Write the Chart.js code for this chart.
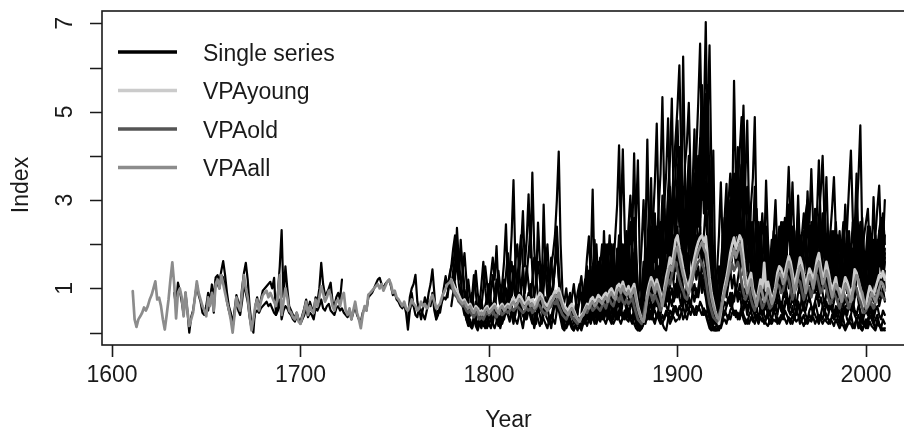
<!DOCTYPE html>
<html>
<head>
<meta charset="utf-8">
<title>Index by year</title>
<script src="https://cdn.jsdelivr.net/npm/chart.js"></script>
<style>
  html, body { margin: 0; padding: 0; background: #fff; overflow: hidden; }
  #wrap { width: 904px; height: 432px; overflow: hidden; }
</style>
</head>
<body>
<div id="wrap"><canvas id="indexChart" width="930" height="432"></canvas></div>
<script>
// axis ticks and labels
const xTicks = [1600, 1700, 1800, 1900, 2000];
const yTicks = [0, 1, 2, 3, 4, 5, 6, 7];
const yTickLabels = [1, 3, 5, 7];
const legendLabels = ['Single series', 'VPAyoung', 'VPAold', 'VPAall'];
const legendColors = ['#000000', '#cbcbcb', '#555555', '#8c8c8c'];

// VPA chronologies (start year + one value per year)
const vpaAllStart = 1611;
const vpaAll = [
  0.94, 0.3, 0.13, 0.3, 0.37, 0.45, 0.57, 0.5, 0.6, 0.75,
  0.85, 1.0, 1.16, 0.75, 0.79, 0.6, 0.3, 0.07, 0.4, 0.75,
  1.2, 1.59, 1.1, 0.32, 0.9, 1.0, 0.8, 0.37, 0.91, 0.5,
  0.15, 0.3, 0.45, 0.8, 1.16, 0.9, 0.75, 0.6, 0.5, 0.37,
  0.8, 0.6, 0.9, 0.5, 1.1, 1.2, 1.0, 1.3, 1.1, 0.9,
  0.7, 0.52, 0.3, 0.0, 0.4, 0.8, 0.6, 0.5, 0.9, 1.3,
  1.0, 0.8, 0.4, 0.05, 0.3, 0.6, 0.75, 0.5, 0.7, 0.85,
  0.9, 0.95, 0.8, 0.9, 0.8, 0.7, 0.6, 0.85, 1.3, 0.4,
  0.7, 1.0, 0.8, 0.5, 0.45, 0.35, 0.3, 0.45, 0.25, 0.2,
  0.35, 0.5, 0.7, 0.4, 0.6, 0.5, 0.45, 0.75, 0.6, 0.8,
  1.05, 0.9, 0.7, 0.8, 0.95, 0.85, 0.6, 0.5, 0.7, 0.75,
  0.6, 0.8, 0.9, 0.5, 0.4, 0.55, 0.3, 0.5, 0.7, 0.45,
  0.3, 0.1, 0.4, 0.6, 0.5, 0.86, 0.9, 0.95, 1.0, 1.05,
  1.1, 1.0, 1.1, 0.95, 1.05, 1.15, 1.2, 1.1, 0.9, 0.95,
  0.8, 0.75, 0.68, 0.6, 0.7, 0.55, 0.5, 0.6, 0.75, 0.65,
  0.6, 0.5, 0.55, 0.7, 0.6, 0.65, 0.55, 0.6, 0.75, 0.85,
  0.7, 0.55, 0.6, 0.65, 0.8, 0.9, 1.0, 1.1, 1.13, 1.2,
  1.0, 0.9, 0.85, 0.75, 0.7, 0.65, 0.7, 0.6, 0.55, 0.6,
  0.5, 0.45, 0.55, 0.5, 0.4, 0.45, 0.4, 0.5, 0.55, 0.45,
  0.5, 0.55, 0.6, 0.5, 0.45, 0.55, 0.6, 0.5, 0.55, 0.6,
  0.55, 0.65, 0.7, 0.6, 0.65, 0.75, 0.7, 0.6, 0.55, 0.65,
  0.7, 0.6, 0.65, 0.55, 0.6, 0.7, 0.8, 0.75, 0.6, 0.55,
  0.5, 0.6, 0.7, 0.75, 0.85, 0.8, 0.9, 0.75, 0.6, 0.5,
  0.45, 0.4, 0.5, 0.55, 0.45, 0.35, 0.3, 0.25, 0.35, 0.4,
  0.5, 0.6, 0.55, 0.65, 0.7, 0.6, 0.65, 0.75, 0.7, 0.65,
  0.75, 0.8, 0.7, 0.85, 0.9, 0.8, 0.75, 0.95, 1.0, 0.9,
  1.05, 0.9, 0.85, 0.95, 0.8, 0.9, 1.0, 0.75, 0.55, 0.4,
  0.3, 0.25, 0.5, 0.8, 1.0, 1.15, 1.05, 0.9, 1.1, 0.95,
  0.8, 0.6, 0.85, 1.1, 1.3, 1.5, 1.4, 1.6, 1.85, 1.95,
  1.7, 1.5, 1.3, 1.15, 1.0, 0.9, 1.1, 1.3, 1.5, 1.7,
  1.85, 1.95, 2.05, 1.9, 1.8, 1.5, 1.1, 0.8, 0.6, 0.45,
  0.35, 0.3, 0.5, 0.7, 0.95, 1.1, 1.35, 1.6, 1.75, 1.9,
  1.7, 1.85, 2.0, 1.75, 1.4, 1.1, 0.9, 1.05, 1.2, 0.9,
  0.75, 0.6, 0.85, 1.05, 0.9, 0.7, 0.8, 1.0, 0.85, 0.65,
  0.75, 0.95, 1.2, 1.35, 1.3, 1.1, 1.2, 1.4, 1.6, 1.45,
  1.2, 0.9, 1.1, 1.3, 1.5, 1.4, 1.15, 0.9, 1.1, 1.3,
  1.2, 1.0, 1.25, 1.5, 1.6, 1.35, 1.1, 1.2, 1.4, 1.25,
  1.0, 0.8, 0.95, 1.1, 1.0, 0.85, 0.7, 0.9, 1.1, 1.0,
  0.85, 0.7, 0.9, 1.15, 1.3, 1.2, 1.0, 0.9, 0.7, 0.55,
  0.6, 0.75, 0.9, 0.8, 0.7, 0.85, 1.0, 1.15, 1.1, 0.95
];

const vpaYoungStart = 1780;
const vpaYoung = [
  1.2, 1.1, 1.0, 0.95, 0.85, 0.75, 0.7, 0.75, 0.65, 0.6,
  0.65, 0.55, 0.5, 0.6, 0.55, 0.45, 0.5, 0.45, 0.55, 0.6,
  0.5, 0.55, 0.6, 0.65, 0.55, 0.5, 0.6, 0.65, 0.55, 0.6,
  0.65, 0.6, 0.7, 0.8, 0.7, 0.75, 0.85, 0.8, 0.7, 0.65,
  0.7, 0.8, 0.7, 0.75, 0.65, 0.7, 0.8, 0.9, 0.85, 0.7,
  0.65, 0.6, 0.7, 0.8, 0.85, 0.95, 0.9, 1.0, 0.85, 0.7,
  0.6, 0.55, 0.5, 0.6, 0.65, 0.5, 0.4, 0.3, 0.25, 0.4,
  0.45, 0.55, 0.65, 0.6, 0.75, 0.8, 0.7, 0.75, 0.85, 0.8,
  0.75, 0.85, 0.9, 0.8, 0.95, 1.0, 0.9, 0.85, 1.05, 1.1,
  1.0, 1.15, 1.0, 0.95, 1.05, 0.9, 1.0, 1.1, 0.85, 0.6,
  0.45, 0.3, 0.25, 0.55, 0.9, 1.1, 1.25, 1.15, 1.0, 1.2,
  1.05, 0.9, 0.7, 0.95, 1.25, 1.45, 1.7, 1.55, 1.8, 2.1,
  2.2, 1.9, 1.7, 1.45, 1.25, 1.1, 1.0, 1.25, 1.5, 1.7,
  1.9, 2.05, 2.15, 2.2, 2.05, 2.18, 1.7, 1.25, 0.9, 0.7,
  0.5, 0.35, 0.2, 0.45, 0.8, 1.05, 1.25, 1.5, 1.8, 2.0,
  2.15, 1.9, 2.05, 2.2, 2.1, 1.7, 1.3, 1.05, 1.2, 1.35,
  1.0, 0.85, 0.7, 0.95, 1.2, 1.0, 1.58, 0.95, 1.15, 0.95,
  0.75, 0.85, 1.05, 1.35, 1.5, 1.45, 1.25, 1.35, 1.55, 1.73,
  1.6, 1.35, 1.05, 1.25, 1.45, 1.7, 1.55, 1.3, 1.05, 1.25,
  1.45, 1.35, 1.15, 1.4, 1.65, 1.8, 1.5, 1.25, 1.35, 1.6,
  1.4, 1.15, 0.95, 1.1, 1.25, 0.97, 1.0, 0.85, 1.05, 1.25,
  1.15, 1.0, 0.85, 1.05, 1.43, 1.35, 1.15, 1.0, 0.6, 0.65,
  0.61, 0.85, 1.05, 0.95, 0.85, 1.0, 1.15, 1.3, 1.25, 1.39,
  1.2
];

const vpaOldStart = 1780;
const vpaOld = [
  1.1, 0.95, 0.85, 0.8, 0.7, 0.65, 0.6, 0.6, 0.5, 0.45,
  0.5, 0.4, 0.35, 0.45, 0.4, 0.3, 0.35, 0.3, 0.4, 0.45,
  0.4, 0.45, 0.5, 0.4, 0.35, 0.45, 0.5, 0.4, 0.45, 0.5,
  0.45, 0.5, 0.55, 0.5, 0.55, 0.6, 0.55, 0.5, 0.45, 0.5,
  0.55, 0.5, 0.55, 0.45, 0.5, 0.55, 0.65, 0.6, 0.5, 0.45,
  0.4, 0.5, 0.55, 0.6, 0.7, 0.65, 0.75, 0.6, 0.5, 0.4,
  0.35, 0.3, 0.4, 0.45, 0.35, 0.3, 0.25, 0.2, 0.3, 0.35,
  0.4, 0.5, 0.45, 0.55, 0.6, 0.5, 0.55, 0.6, 0.55, 0.5,
  0.6, 0.65, 0.55, 0.7, 0.75, 0.65, 0.6, 0.75, 0.8, 0.7,
  0.85, 0.7, 0.65, 0.75, 0.65, 0.7, 0.8, 0.6, 0.45, 0.3,
  0.25, 0.2, 0.4, 0.65, 0.8, 0.9, 0.85, 0.7, 0.85, 0.75,
  0.65, 0.5, 0.7, 0.9, 1.05, 1.2, 1.1, 1.3, 1.5, 1.6,
  1.4, 1.2, 1.05, 0.95, 0.8, 0.75, 0.9, 1.05, 1.2, 1.4,
  1.5, 1.6, 1.65, 1.55, 1.45, 1.2, 0.9, 0.65, 0.5, 0.35,
  0.3, 0.25, 0.4, 0.55, 0.75, 0.9, 1.1, 1.3, 1.4, 1.55,
  1.4, 1.5, 1.6, 1.4, 1.15, 0.9, 0.75, 0.85, 1.0, 0.75,
  0.6, 0.5, 0.7, 0.85, 0.75, 0.55, 0.65, 0.8, 0.7, 0.55,
  0.6, 0.75, 0.95, 1.1, 1.05, 0.9, 0.95, 1.15, 1.3, 1.2,
  1.0, 0.75, 0.9, 1.05, 1.2, 1.15, 0.95, 0.75, 0.9, 1.05,
  1.0, 0.8, 1.0, 1.2, 1.3, 1.1, 0.9, 1.0, 1.15, 1.0,
  0.8, 0.65, 0.75, 0.9, 0.8, 0.7, 0.55, 0.7, 0.9, 0.8,
  0.7, 0.55, 0.7, 0.9, 1.05, 1.0, 0.8, 0.7, 0.55, 0.45,
  0.5, 0.6, 0.7, 0.65, 0.55, 0.7, 0.8, 0.9, 0.9, 0.8,
  0.75
];

// single site series
const single01Start = 1633;
const single01 = [
  0.9, 0.6, 1.13, 0.95, 0.7, 0.4, 0.9, 0.5, 0.0, 0.35,
  0.5, 0.8, 1.1, 0.85, 0.7, 0.45, 0.4, 0.6, 0.9, 0.7,
  1.09, 0.45, 1.25, 1.3, 1.15, 1.4, 1.62, 1.3, 0.9, 0.6,
  0.45, 0.2, 0.5, 0.85, 0.7, 0.55, 1.0, 1.35, 1.58, 1.2,
  0.6, 0.2, 0.0, 0.6, 0.8, 0.55, 0.75, 0.95, 1.0, 1.05,
  1.1, 1.15, 1.0, 1.24, 0.4, 0.9, 1.5, 2.32, 0.8, 1.5,
  1.0, 0.6, 0.5, 0.4, 0.35, 0.45, 0.3, 0.25, 0.4, 0.55,
  0.75, 0.5, 0.7, 0.55, 0.5, 0.8, 0.7, 1.0, 1.58, 1.1,
  0.85, 0.9, 1.0, 1.13, 0.7, 0.6, 0.8, 0.9, 0.75, 1.2
];

const single02Start = 1650;
const single02 = [
  0.6, 0.5, 0.8, 1.0, 0.9, 1.2, 1.1, 1.0, 1.3, 1.25,
  1.0, 0.7, 0.5, 0.35, 0.1, 0.45, 0.7, 0.5, 0.4, 0.7,
  1.1, 0.9, 0.7, 0.35, 0.1, 0.25, 0.45, 0.5, 0.45, 0.55,
  0.6, 0.65, 0.7, 0.6, 0.65, 0.55, 0.45, 0.4, 0.5, 0.75,
  0.3, 0.5, 0.6, 0.55, 0.45, 0.4, 0.3, 0.25, 0.35, 0.3,
  0.2, 0.3, 0.4, 0.55, 0.35, 0.45, 0.4, 0.3, 0.55, 0.5,
  0.6, 0.75, 0.55, 0.5, 0.6, 0.65, 0.5, 0.45, 0.4, 0.55,
  0.6, 0.5, 0.55, 0.45, 0.4, 0.35, 0.5, 0.3, 0.45, 0.6,
  0.4, 0.3, 0.25, 0.45, 0.55, 0.5, 0.8, 0.85, 0.9, 1.0,
  1.1, 1.2, 1.24, 1.1, 1.0, 1.1, 1.15, 1.2, 1.05, 0.85,
  0.9, 0.75, 0.7, 0.6, 0.55, 0.65, 0.45, 0.07, 0.5, 0.7, 0.6
];

const single03Start = 1757;
const single03 = [
  0.3, 0.8, 1.0, 1.1, 1.31, 0.7, 0.5, 0.3, 0.55, 0.8,
  0.6, 0.9, 1.1, 1.43, 0.9, 0.3, 0.5, 0.45, 0.7, 1.0,
  1.28, 1.0, 1.3, 1.5, 1.6, 1.2, 2.37, 1.6, 1.2, 0.8,
  0.5, 0.3, 0.2, 0.6, 0.9, 0.5, 0.3, 0.15, 0.4, 0.7,
  0.5, 0.3, 0.1, 0.4, 0.9, 1.3, 0.8, 0.5, 0.35, 0.2,
  0.6, 1.2, 0.9, 0.5, 1.4, 2.2, 3.45, 1.6, 0.7, 0.4,
  0.9, 1.5, 0.6, 0.3, 0.5, 1.1, 0.7, 0.4, 0.2, 0.6,
  0.9, 1.3, 0.8, 0.4, 0.6, 1.0, 1.5, 1.8, 2.2, 3.0,
  4.1, 2.0, 0.9, 0.5, 0.3, 0.2, 0.4, 0.6, 0.5, 0.3,
  0.2, 0.1, 0.4, 0.8, 0.6, 1.0, 1.4, 0.9, 0.6, 1.1,
  1.5, 0.8, 0.5, 1.2, 1.8, 1.0, 0.6, 0.9, 1.4, 0.7,
  0.5, 1.0, 1.6, 2.0, 1.3, 0.8, 1.1, 1.7, 1.0, 0.6,
  1.2, 0.9, 0.5, 0.2, 0.1, 0.4, 0.9, 1.5, 1.1, 0.8,
  1.4, 2.0, 1.3, 0.9, 1.6, 2.4, 1.5, 1.0, 1.8, 2.6,
  2.0, 1.4, 2.2, 2.9, 3.4, 2.5, 1.8, 1.2, 2.0, 2.7,
  1.9, 1.4, 2.3, 3.0, 2.4, 3.1, 3.8, 2.7, 3.3, 2.2,
  1.5, 0.9, 0.5, 0.3, 0.2, 0.4, 0.7, 1.2, 1.8, 1.3,
  1.9, 2.5, 2.9, 3.3, 2.4, 2.8, 3.1, 2.2, 1.7, 1.2,
  1.6, 2.1, 1.4, 0.8, 1.3, 0.9, 0.6, 1.1, 1.5, 0.9,
  0.6, 1.0, 1.3, 0.7, 0.5, 0.9, 1.4, 1.9, 2.3, 1.6,
  1.2, 1.8, 2.4, 1.9, 1.3, 0.8, 1.2, 1.7, 2.1, 1.5,
  1.0, 0.7, 1.2, 1.8, 2.5, 1.9, 1.4, 2.0, 2.6, 2.1,
  1.5, 1.0, 1.6, 2.2, 1.4, 0.9, 1.3, 1.8, 1.2, 0.8,
  0.6, 1.0, 1.4, 0.9, 1.3, 2.0, 1.5, 1.0, 1.7, 2.3,
  1.6, 1.1, 0.7, 0.5, 0.9, 1.3, 1.0, 0.7, 1.1, 1.6,
  2.0, 1.5, 1.2, 1.8
];

const single04Start = 1758;
const single04 = [
  0.5, 0.9, 0.6, 0.4, 0.35, 0.6, 0.5, 0.4, 0.3, 0.5,
  0.7, 0.6, 0.9, 0.5, 0.3, 0.4, 0.6, 0.7, 0.8, 0.75,
  0.9, 1.1, 1.0, 1.4, 2.0, 1.7, 1.2, 2.1, 1.4, 0.8,
  0.5, 0.3, 0.15, 0.1, 0.3, 0.2, 0.1, 0.3, 0.2, 0.15,
  0.3, 0.4, 0.2, 0.1, 0.3, 0.5, 0.3, 0.15, 0.2, 0.35,
  0.3, 0.5, 0.4, 0.25, 0.6, 0.45, 0.3, 0.2, 0.4, 0.55,
  0.4, 0.3, 0.5, 0.6, 0.35, 0.2, 0.3, 0.45, 0.3, 0.15,
  0.3, 0.5, 0.4, 0.3, 0.2, 0.35, 0.55, 0.7, 0.5, 0.6,
  0.4, 0.3, 0.15, 0.1, 0.2, 0.3, 0.2, 0.1, 0.15, 0.05,
  0.2, 0.3, 0.4, 0.35, 0.5, 0.4, 0.3, 0.5, 0.6, 0.45,
  0.35, 0.5, 0.4, 0.3, 0.45, 0.55, 0.4, 0.3, 0.5, 0.6,
  0.45, 0.35, 0.5, 0.4, 0.3, 0.45, 0.55, 0.4, 0.35, 0.5,
  0.3, 0.15, 0.05, 0.1, 0.2, 0.35, 0.5, 0.4, 0.3, 0.45,
  0.5, 0.35, 0.4, 0.3, 0.2, 0.35, 0.5, 0.45, 0.3, 0.4,
  0.35, 0.25, 0.3
];

const single05Start = 1778;
const single05 = [
  0.8, 1.2, 1.5, 1.9, 2.2, 1.8, 1.4, 1.9, 1.5, 1.0,
  0.7, 1.2, 0.8, 0.5, 1.0, 1.4, 0.9, 0.6, 1.1, 1.6,
  1.0, 0.6, 0.9, 1.3, 1.7, 1.2, 1.96, 1.0, 0.6, 1.1,
  1.6, 2.45, 1.2, 0.7, 1.0, 1.5, 0.9, 0.6, 1.3, 1.9,
  2.75, 1.5, 2.1, 3.13, 1.7, 3.62, 1.9, 1.1, 2.49, 1.6,
  1.0, 2.9, 1.4, 0.8, 1.2, 1.7, 1.0, 1.5, 2.0, 1.3,
  0.8, 0.5, 0.7, 1.0, 0.6, 0.4, 0.8, 1.1, 0.7, 0.4,
  1.0, 1.28, 0.8, 0.5, 0.9, 1.4, 1.0, 0.6, 0.8, 1.1,
  0.7, 0.5, 0.9, 0.6, 0.4, 0.7, 1.0, 0.6, 0.3, 0.5,
  0.8, 0.6, 0.4, 0.7, 0.9, 0.5, 0.3, 0.6, 0.8, 0.5,
  0.4, 0.2, 0.1, 0.3, 0.5, 0.7, 0.5, 0.9, 0.6, 0.4,
  0.6, 0.8, 0.5, 0.4, 0.7, 0.9, 0.6, 0.5, 0.8, 1.0,
  0.7, 0.9, 1.2, 0.8, 0.6, 1.0, 0.7, 0.5, 0.8, 0.6,
  0.9, 1.1, 0.8, 1.0, 1.3, 0.9, 1.2, 1.0, 0.7, 0.5,
  0.3, 0.15, 0.1, 0.05, 0.2, 0.3, 0.5, 0.4, 0.6, 0.7,
  0.9, 0.6, 0.8, 1.0, 0.7, 0.9, 0.6, 0.5, 0.7, 0.4,
  0.6, 0.8, 0.5, 0.4, 0.6, 0.3, 0.5, 0.7, 0.4, 0.3,
  0.5, 0.4, 0.3, 0.5, 0.6, 0.4, 0.7, 0.5, 0.4, 0.6,
  0.8, 0.5, 0.4, 0.6, 0.3, 0.5, 0.7, 0.4, 0.5, 0.6,
  0.4, 0.3, 0.5, 0.6, 0.4, 0.7, 0.5, 0.3, 0.4, 0.6,
  0.5, 0.3, 0.4, 0.6, 0.5, 0.3, 0.4, 0.5, 0.3, 0.2,
  0.4, 0.5, 0.3, 0.2, 0.4, 0.6, 0.4, 0.3, 0.1, 0.3,
  0.4, 0.2, 0.1, 0.3, 0.5, 0.4, 0.2, 0.3, 0.4, 0.2,
  0.1, 0.3, 0.2
];

const single06Start = 1780;
const single06 = [
  0.6, 0.9, 1.3, 1.6, 1.1, 0.8, 0.6, 0.4, 0.5, 0.3,
  0.4, 0.6, 0.45, 0.3, 0.5, 0.7, 0.5, 0.35, 0.6, 0.8,
  1.1, 0.7, 0.5, 0.8, 1.2, 0.9, 0.6, 0.4, 0.7, 1.0,
  0.8, 1.3, 1.6, 1.1, 0.8, 1.2, 1.7, 2.2, 1.5, 0.9,
  1.3, 1.8, 2.3, 1.4, 0.8, 1.1, 1.6, 1.2, 0.7, 1.0,
  1.5, 2.0, 1.2, 0.8, 1.1, 1.6, 2.4, 1.5, 0.8, 0.5,
  0.3, 0.5, 0.8, 0.6, 0.4, 0.2, 0.3, 0.5, 0.7, 0.9,
  0.6, 0.4, 0.8, 1.1, 0.7, 1.5, 1.0, 0.6, 0.9, 1.3,
  0.8
];

const single07Start = 1780;
const single07 = [
  1.0, 1.3, 1.1, 0.9, 0.7, 1.0, 0.8, 0.5, 0.3, 0.15,
  0.2, 0.1, 0.3, 0.15, 0.05, 0.2, 0.35, 0.2, 0.1, 0.25,
  0.4, 0.3, 0.2, 0.1, 0.25, 0.4, 0.3, 0.2, 0.35, 0.5,
  0.4, 0.6, 0.5, 0.3, 0.4, 0.7, 0.9, 0.6, 0.4, 0.3,
  0.5, 0.7, 0.4, 0.3, 0.2, 0.4, 0.6, 0.8, 0.5, 0.3,
  0.2, 0.1, 0.3, 0.4, 0.3, 0.2, 0.5, 0.7, 0.4, 0.2,
  0.1, 0.15, 0.3, 0.2, 0.1, 0.05, 0.2, 0.35, 0.25, 0.15,
  0.3, 0.5, 0.4, 0.6, 0.8, 0.5, 0.3, 0.45, 0.7, 0.5,
  0.4, 0.6, 0.8, 0.5, 0.3, 0.5, 0.7, 0.4, 0.3, 0.5,
  0.6
];

const single08Start = 1785;
const single08 = [
  0.9, 1.4, 1.8, 1.2, 0.7, 0.4, 0.8, 1.3, 0.9, 0.5,
  0.3, 0.6, 1.0, 1.5, 1.1, 0.7, 0.4, 0.2, 0.5, 0.9,
  1.4, 1.0, 0.6, 0.9, 1.3, 1.8, 1.2, 0.8, 1.1, 1.6,
  2.0, 1.4, 0.9, 0.6, 1.0, 1.5, 1.1, 0.7, 1.2, 1.7,
  1.3, 0.8, 0.5, 0.9, 1.4, 1.9, 1.3, 0.9, 0.6, 1.0,
  1.5, 1.9, 1.2, 0.7, 0.4, 0.2, 0.4, 0.7, 0.9, 0.6,
  0.4, 0.6, 0.9, 1.1, 0.8, 0.5
];

const single09Start = 1790;
const single09 = [
  0.3, 0.1, 0.4, 0.7, 0.5, 0.2, 0.1, 0.4, 0.6, 0.3,
  0.15, 0.35, 0.6, 0.8, 0.5, 0.3, 0.1, 0.3, 0.5, 0.7,
  0.9, 0.6, 0.4, 0.2, 0.5, 0.8, 0.6, 0.3, 0.1, 0.4,
  0.7, 0.9, 0.6, 0.4, 0.1, 0.3, 0.6, 0.4, 0.2, 0.5,
  0.8, 0.6, 0.3, 0.1, 0.4, 0.7, 0.9, 0.5, 0.3, 0.1,
  0.05, 0.2, 0.4, 0.3, 0.1, 0.05, 0.15, 0.3, 0.2, 0.05,
  0.2, 0.4, 0.3, 0.6, 0.4, 0.3, 0.5, 0.7, 0.4, 0.3,
  0.5
];

const single10Start = 1850;
const single10 = [
  0.4, 0.9, 1.5, 0.8, 1.6, 3.24, 1.2, 0.7, 1.3, 0.9,
  0.5, 1.1, 1.7, 0.9, 1.4, 2.0, 1.1, 0.6, 1.5, 2.2,
  1.3, 0.8, 1.6, 2.3, 1.2, 0.7, 1.9, 2.6, 1.4, 0.6,
  0.3, 0.2, 0.9, 2.1, 4.37, 2.0, 1.1, 1.8, 2.7, 1.5,
  0.9, 2.0, 3.1, 1.7, 1.0, 2.3, 3.3, 2.0, 1.4, 2.8,
  3.6, 4.2, 2.9, 6.25, 3.5, 2.1, 3.0, 2.2, 1.5, 2.8,
  3.9, 2.6, 4.4, 3.0, 4.8, 7.03, 4.0, 2.3, 1.2, 0.6,
  0.3, 0.2, 0.5, 1.1, 1.8, 2.6, 1.6, 2.9, 3.6, 2.5,
  5.7, 3.4, 2.2, 3.1, 3.8, 2.4, 1.7, 2.5, 1.6, 2.9,
  3.5, 4.88, 2.3, 1.2, 1.9, 1.3, 0.8, 1.4, 2.0, 1.1,
  0.7, 1.5, 2.2, 1.4, 1.8, 2.5, 1.6, 1.0, 1.9, 2.6,
  1.8, 1.1, 0.7, 1.6, 2.3, 1.5, 2.0, 1.2, 0.8, 1.7,
  2.4, 1.6, 2.1, 2.8, 1.9, 2.6, 3.2, 4.0, 2.5, 1.4,
  2.0, 1.2, 0.8, 1.5, 2.2, 1.4, 0.9, 0.6, 1.3, 2.0,
  1.4, 2.3, 1.6, 1.1, 1.8, 2.7, 3.5, 4.69, 2.2, 1.0,
  0.6, 1.2, 1.9, 1.3, 2.1, 1.5, 1.0, 1.8, 2.4, 1.7,
  2.2
];

const single11Start = 1850;
const single11 = [
  1.0, 0.6, 0.4, 1.1, 0.7, 1.4, 2.1, 1.3, 0.8, 1.5,
  2.0, 1.2, 0.9, 1.6, 1.1, 0.7, 1.4, 2.2, 2.9, 4.24,
  2.1, 1.0, 1.5, 0.9, 1.8, 2.5, 1.4, 0.8, 1.2, 0.5,
  0.2, 0.4, 0.7, 1.3, 1.9, 1.2, 2.4, 1.5, 0.9, 2.0,
  2.8, 3.6, 5.33, 3.0, 1.8, 2.7, 1.6, 2.4, 3.2, 2.1,
  2.9, 3.7, 2.4, 3.3, 2.0, 3.1, 4.0, 2.6, 1.9, 3.0,
  4.1, 5.2, 6.54, 4.3, 3.1, 4.5, 5.6, 3.2, 1.8, 0.9,
  0.5, 0.3, 0.6, 1.4, 2.2, 1.5, 2.8, 1.9, 2.6, 3.4,
  2.6, 3.3, 2.3, 3.0, 3.9, 5.14, 3.2, 2.0, 2.7, 1.8,
  1.2, 2.0, 2.8, 1.7, 1.1, 1.6, 2.3, 1.4, 0.9, 1.5,
  2.1, 1.3, 0.9, 1.7, 2.4, 1.8, 1.2, 2.0, 2.7, 3.75,
  2.5, 1.7, 1.2, 2.0, 1.4, 0.9, 1.6, 2.3, 1.8, 1.1,
  1.5, 2.2, 1.6, 1.0, 1.8, 2.5, 1.7, 2.4, 1.9, 1.2,
  0.9, 1.6, 2.3, 1.5, 1.0, 1.7, 2.2, 1.4, 0.8, 1.5,
  2.4, 3.3, 4.12, 2.6, 1.5, 2.1, 1.4, 2.0, 2.6, 1.6,
  1.1, 1.8, 1.2, 0.8, 1.5, 2.2, 2.8, 3.33, 2.1, 1.4,
  1.9
];

const single12Start = 1850;
const single12 = [
  0.3, 0.5, 0.8, 0.5, 1.2, 0.9, 0.6, 1.0, 1.6, 1.1,
  0.8, 1.3, 0.7, 0.5, 1.0, 1.5, 2.0, 1.2, 0.9, 1.6,
  2.6, 4.15, 2.3, 1.2, 0.8, 1.3, 1.9, 1.1, 0.7, 0.4,
  0.3, 0.5, 1.0, 1.6, 1.0, 1.4, 2.2, 1.3, 0.8, 1.7,
  2.3, 1.4, 2.0, 2.8, 2.0, 3.2, 3.9, 5.3, 2.9, 1.8,
  2.4, 1.6, 3.0, 2.2, 1.5, 2.5, 1.9, 3.2, 2.4, 3.6,
  2.5, 3.4, 2.3, 3.8, 4.6, 3.5, 4.9, 6.5, 3.6, 1.5,
  0.8, 0.4, 0.2, 0.7, 1.3, 2.0, 1.4, 2.3, 3.0, 2.2,
  3.6, 2.5, 3.3, 4.1, 4.88, 3.0, 2.1, 1.5, 2.2, 1.5,
  2.4, 1.7, 1.1, 1.8, 2.5, 1.6, 1.0, 1.7, 1.2, 0.8,
  1.3, 1.9, 1.2, 0.8, 1.5, 1.1, 1.9, 2.6, 1.8, 1.3,
  1.9, 2.4, 1.5, 1.0, 1.6, 2.2, 1.4, 2.0, 2.7, 3.0,
  2.5, 3.7, 2.4, 1.6, 2.1, 1.5, 2.0, 2.7, 1.8, 1.1,
  1.6, 2.2, 2.8, 3.52, 2.3, 1.5, 1.1, 1.7, 2.2, 1.4,
  0.9, 1.5, 2.0, 1.3, 1.8, 2.4, 1.6, 2.1, 1.2, 0.8,
  1.4, 2.0, 1.5, 1.1, 1.6, 2.2, 1.6, 2.3, 2.6, 2.0,
  3.0
];

const single13Start = 1850;
const single13 = [
  0.7, 1.2, 0.6, 0.9, 1.4, 0.8, 1.6, 2.0, 1.1, 0.7,
  1.3, 1.8, 1.0, 1.5, 2.2, 1.4, 0.8, 1.2, 1.9, 1.3,
  0.9, 1.5, 2.0, 1.4, 2.4, 3.1, 2.2, 4.06, 2.0, 1.0,
  0.5, 0.9, 1.6, 1.1, 2.0, 2.8, 1.7, 2.5, 3.4, 4.73,
  2.6, 1.7, 2.4, 1.5, 2.2, 3.0, 2.1, 2.9, 3.7, 4.4,
  5.1, 6.05, 4.0, 2.7, 1.8, 2.5, 3.4, 2.3, 3.1, 2.2,
  2.9, 3.6, 2.6, 4.0, 5.0, 3.7, 2.8, 3.9, 2.5, 4.12,
  1.4, 0.6, 0.4, 0.3, 0.9, 1.6, 2.3, 1.5, 2.1, 2.8,
  2.3, 2.9, 3.6, 2.5, 3.2, 2.6, 3.5, 4.8, 2.6, 1.7,
  2.5, 1.8, 1.2, 2.0, 1.4, 0.9, 1.7, 2.4, 1.5, 1.0,
  1.6, 2.3, 1.4, 2.0, 1.3, 1.9, 2.5, 1.7, 2.3, 2.9,
  2.2, 3.4, 2.1, 1.4, 2.0, 1.3, 1.8, 1.2, 1.9, 2.5,
  1.9, 1.3, 1.8, 2.4, 1.7, 2.3, 1.6, 2.2, 2.9, 2.0,
  1.4, 2.1, 1.5, 1.0, 1.6, 2.2, 1.5, 1.1, 1.9, 2.9,
  2.0, 1.3, 1.8, 2.5, 1.6, 1.2, 1.9, 2.5, 1.7, 1.2,
  1.8, 2.4, 1.6, 1.2, 1.9, 1.4, 2.1, 1.5, 2.2, 2.7,
  2.0
];

const single14Start = 1850;
const single14 = [
  0.5, 0.3, 0.7, 1.0, 0.6, 0.9, 1.3, 0.8, 0.5, 1.0,
  1.4, 0.9, 1.5, 2.0, 1.3, 0.9, 1.6, 1.1, 0.7, 1.2,
  1.8, 1.2, 0.8, 1.4, 2.1, 1.5, 1.0, 1.7, 2.6, 3.9,
  1.6, 0.7, 0.4, 0.8, 1.4, 2.0, 1.3, 2.1, 1.6, 2.4,
  1.7, 2.5, 1.8, 2.9, 3.6, 4.85, 3.1, 2.3, 1.7, 2.5,
  3.3, 2.4, 3.5, 2.7, 3.8, 4.3, 5.2, 3.4, 2.4, 3.3,
  3.0, 4.0, 3.1, 5.0, 3.6, 5.4, 4.2, 3.0, 2.1, 1.1,
  0.7, 1.4, 2.2, 3.4, 1.9, 1.2, 1.8, 2.5, 1.7, 2.4,
  3.1, 2.2, 2.8, 2.1, 3.4, 4.3, 2.7, 3.3, 2.0, 1.4,
  2.1, 3.3, 1.9, 1.3, 2.0, 2.7, 1.8, 3.44, 2.1, 1.3,
  0.9, 1.5, 2.0, 1.3, 1.7, 1.2, 1.6, 2.1, 1.5, 1.0,
  1.5, 2.0, 1.4, 2.1, 2.7, 1.9, 1.3, 1.8, 2.4, 1.6,
  1.2, 1.9, 2.6, 1.8, 2.7, 3.9, 2.4, 1.7, 2.3, 1.6,
  2.3, 1.7, 1.2, 1.9, 2.5, 1.7, 2.3, 1.6, 1.1, 1.6,
  2.2, 1.6, 1.0, 1.5, 2.1, 1.5, 2.0, 1.4, 2.3, 1.8,
  1.3, 1.9, 2.4, 1.7, 3.07, 2.0, 1.4, 2.0, 1.6, 1.2,
  1.7
];

const single15Start = 1850;
const single15 = [
  0.4, 0.7, 0.5, 0.8, 0.4, 0.6, 0.9, 0.5, 1.2, 1.7,
  1.0, 2.3, 1.1, 0.6, 0.9, 1.3, 0.8, 0.5, 0.9, 1.4,
  0.8, 1.2, 0.7, 1.0, 1.5, 0.9, 0.6, 1.1, 0.7, 0.3,
  0.2, 0.6, 1.1, 0.7, 1.4, 2.2, 3.5, 1.6, 0.9, 1.4,
  0.8, 1.3, 1.8, 1.1, 0.7, 1.5, 1.0, 1.7, 2.2, 1.4,
  2.0, 1.3, 1.8, 2.5, 1.6, 1.1, 1.9, 2.6, 3.3, 4.6,
  2.8, 1.8, 2.4, 1.5, 2.2, 2.9, 1.9, 1.2, 0.6, 0.3,
  0.2, 0.5, 0.9, 1.5, 2.0, 2.6, 3.37, 1.8, 1.3, 1.9,
  2.6, 1.7, 2.2, 1.5, 2.4, 1.6, 1.1, 1.8, 1.3, 0.8,
  1.4, 0.9, 0.6, 1.1, 0.7, 1.2, 0.8, 1.3, 0.9, 0.5,
  0.8, 1.2, 0.7, 1.1, 1.5, 0.9, 1.3, 0.8, 1.2, 1.6,
  1.1, 0.7, 1.3, 1.9, 3.1, 1.8, 1.1, 0.8, 1.3, 1.0,
  0.7, 1.2, 0.9, 1.4, 1.0, 1.5, 2.1, 1.6, 2.4, 3.52,
  2.0, 1.1, 0.7, 1.2, 0.8, 1.3, 0.9, 0.6, 1.0, 1.4,
  0.9, 1.3, 1.8, 1.2, 2.3, 3.6, 2.0, 1.1, 0.7, 1.1,
  0.8, 1.2, 0.7, 1.0, 1.4, 0.9, 1.3, 0.8, 1.1, 1.5,
  1.0
];

const single16Start = 1850;
const single16 = [
  0.6, 1.1, 1.7, 2.18, 1.2, 0.7, 1.0, 0.6, 0.9, 1.3,
  0.9, 1.4, 2.0, 1.3, 0.8, 1.2, 0.7, 1.1, 1.6, 1.0,
  1.4, 2.0, 1.3, 0.9, 1.2, 0.8, 1.3, 1.8, 1.1, 0.7,
  1.2, 2.0, 3.0, 1.7, 1.0, 1.5, 1.0, 1.6, 2.2, 1.5,
  1.1, 1.7, 2.4, 1.6, 2.3, 1.7, 2.6, 1.9, 2.9, 3.6,
  4.8, 3.1, 2.0, 2.8, 2.1, 3.2, 2.5, 1.8, 2.6, 1.9,
  2.7, 3.5, 4.3, 5.6, 3.9, 3.0, 2.2, 1.4, 0.8, 0.5,
  0.4, 0.8, 1.5, 0.9, 1.6, 2.1, 1.4, 1.9, 2.6, 3.2,
  2.4, 3.3, 4.2, 2.9, 2.0, 2.8, 1.9, 1.4, 2.0, 2.5,
  1.7, 1.3, 1.9, 2.5, 1.6, 1.1, 1.5, 2.2, 1.5, 1.0,
  1.6, 2.2, 3.0, 1.8, 1.2, 1.6, 2.2, 1.5, 1.1, 1.7,
  1.3, 1.8, 2.3, 1.6, 1.1, 1.6, 2.2, 2.7, 2.0, 3.2,
  2.1, 1.4, 1.9, 1.4, 2.0, 1.5, 1.1, 1.6, 1.2, 1.8,
  1.5, 1.1, 1.7, 2.3, 1.6, 2.0, 1.4, 1.9, 2.5, 1.7,
  1.2, 1.8, 1.3, 1.9, 1.4, 2.0, 1.5, 1.1, 1.7, 2.2,
  2.5, 2.8, 1.9, 1.3, 1.8, 1.2, 1.7, 2.3, 1.6, 1.1,
  1.6
];

const single17Start = 1850;
const single17 = [
  0.3, 0.2, 0.4, 0.3, 0.5, 0.4, 0.2, 0.3, 0.5, 0.4,
  0.3, 0.5, 0.6, 0.4, 0.3, 0.2, 0.4, 0.5, 0.3, 0.4,
  0.5, 0.3, 0.4, 0.6, 0.4, 0.3, 0.2, 0.4, 0.3, 0.1,
  0.05, 0.1, 0.2, 0.4, 0.3, 0.5, 0.4, 0.3, 0.2, 0.4,
  0.5, 0.3, 0.2, 0.1, 0.05, 0.3, 0.5, 0.4, 0.6, 0.5,
  0.4, 0.6, 0.5, 0.3, 0.4, 0.6, 0.5, 0.7, 0.5, 0.4,
  0.6, 0.5, 0.7, 0.6, 0.4, 0.5, 0.3, 0.2, 0.1, 0.05,
  0.05, 0.1, 0.05, 0.2, 0.3, 0.5, 0.4, 0.3, 0.5, 0.6,
  0.4, 0.5, 0.3, 0.4, 0.6, 0.4, 0.3, 0.2, 0.4, 0.5,
  0.3, 0.2, 0.4, 0.3, 0.5, 0.4, 0.2, 0.3, 0.4, 0.2,
  0.3, 0.5, 0.4, 0.2, 0.3, 0.4, 0.3, 0.5, 0.4, 0.3,
  0.2, 0.4, 0.3, 0.5, 0.4, 0.2, 0.3, 0.4, 0.2, 0.3,
  0.4, 0.3, 0.5, 0.4, 0.3, 0.2, 0.4, 0.3, 0.5, 0.4,
  0.3, 0.2, 0.4, 0.3, 0.5, 0.3, 0.2, 0.4, 0.3, 0.1,
  0.2, 0.3, 0.4, 0.2, 0.1, 0.3, 0.4, 0.2, 0.05, 0.2,
  0.3, 0.2, 0.4, 0.3, 0.2, 0.1, 0.3, 0.2, 0.05, 0.1,
  0.05
];

const single18Start = 1850;
const single18 = [
  0.5, 0.8, 0.6, 0.3, 0.7, 1.0, 0.6, 0.4, 0.8, 1.1,
  0.7, 0.4, 0.9, 1.2, 0.8, 0.5, 0.9, 1.3, 0.9, 0.6,
  1.0, 0.7, 1.1, 1.4, 0.9, 0.6, 1.0, 0.7, 0.4, 0.2,
  0.1, 0.3, 0.6, 1.0, 0.7, 1.1, 0.8, 1.2, 0.9, 0.6,
  0.9, 0.6, 1.1, 1.4, 1.0, 0.7, 1.2, 1.5, 1.1, 0.8,
  1.3, 0.9, 1.4, 1.0, 0.7, 1.1, 1.5, 1.0, 1.3, 1.6,
  1.2, 1.5, 1.1, 1.6, 1.3, 1.0, 0.7, 0.4, 0.2, 0.1,
  0.1, 0.2, 0.4, 0.6, 0.9, 1.2, 0.8, 1.1, 1.4, 1.0,
  1.3, 0.9, 1.2, 1.5, 1.1, 0.8, 1.0, 0.7, 0.9, 0.6,
  0.8, 0.5, 0.7, 1.0, 0.6, 0.4, 0.7, 0.9, 0.6, 0.4,
  0.6, 0.9, 0.7, 1.0, 0.8, 0.5, 0.8, 1.1, 0.9, 0.6,
  0.9, 1.2, 0.8, 0.6, 0.9, 1.1, 0.7, 0.5, 0.8, 1.0,
  0.7, 1.0, 1.3, 0.9, 1.1, 0.8, 1.2, 0.9, 0.6, 0.9,
  1.1, 0.8, 0.5, 0.7, 1.0, 0.7, 0.5, 0.3, 0.6, 0.8,
  0.6, 0.9, 0.7, 0.5, 0.8, 1.0, 0.7, 0.4, 0.3, 0.5,
  0.7, 0.5, 0.8, 0.6, 0.4, 0.7, 0.9, 0.6, 0.8, 1.0,
  0.7
];

const single19Start = 1850;
const single19 = [
  0.2, 0.4, 0.3, 0.6, 0.5, 0.3, 0.5, 0.8, 0.6, 0.4,
  0.6, 0.8, 0.5, 0.3, 0.6, 0.9, 0.7, 0.4, 0.6, 0.8,
  0.6, 0.9, 0.7, 0.5, 0.7, 0.9, 0.6, 0.4, 0.2, 0.1,
  0.2, 0.5, 0.3, 0.6, 0.8, 0.5, 0.7, 0.5, 0.8, 1.0,
  0.7, 0.5, 0.8, 0.6, 0.9, 1.0, 0.8, 0.6, 0.9, 1.1,
  0.8, 1.1, 0.9, 0.6, 0.9, 0.7, 1.0, 1.2, 0.9, 0.7,
  1.0, 0.8, 1.1, 1.3, 1.0, 0.8, 0.5, 0.3, 0.2, 0.3,
  0.2, 0.3, 0.1, 0.3, 0.5, 0.7, 0.6, 0.8, 0.6, 0.9,
  0.7, 1.0, 0.8, 1.1, 0.9, 0.6, 0.8, 0.5, 0.7, 0.5,
  0.6, 0.4, 0.6, 0.8, 0.5, 0.7, 0.5, 0.6, 0.4, 0.6,
  0.5, 0.7, 0.5, 0.8, 0.6, 0.7, 0.5, 0.7, 0.8, 0.5,
  0.6, 0.8, 0.6, 0.4, 0.7, 0.5, 0.8, 0.6, 0.5, 0.7,
  0.8, 0.6, 0.5, 0.7, 0.9, 0.6, 0.8, 0.6, 0.4, 0.7,
  0.5, 0.7, 0.6, 0.4, 0.6, 0.5, 0.7, 0.5, 0.4, 0.6,
  0.4, 0.6, 0.5, 0.7, 0.5, 0.4, 0.6, 0.5, 0.2, 0.4,
  0.5, 0.4, 0.6, 0.5, 0.3, 0.5, 0.6, 0.4, 0.3, 0.5,
  0.4
];

const single20Start = 1850;
const single20 = [
  0.8, 1.2, 0.9, 0.6, 1.0, 1.5, 1.1, 0.8, 1.2, 1.6,
  1.2, 0.8, 1.3, 1.7, 1.2, 0.9, 1.4, 1.0, 0.7, 1.1,
  1.5, 1.1, 1.6, 1.2, 0.9, 1.3, 1.7, 1.3, 0.8, 0.5,
  0.3, 0.7, 1.2, 0.8, 1.3, 1.7, 1.2, 0.9, 1.4, 1.1,
  1.5, 1.0, 1.4, 1.8, 1.3, 1.7, 2.1, 1.5, 1.2, 1.7,
  2.0, 1.6, 1.2, 1.7, 1.3, 1.8, 1.4, 1.9, 1.5, 1.8,
  2.2, 1.7, 2.0, 1.6, 1.9, 1.5, 1.1, 0.7, 0.4, 0.2,
  0.3, 0.6, 0.9, 1.2, 1.6, 1.2, 1.5, 1.9, 1.4, 1.7,
  2.0, 1.5, 1.8, 1.4, 1.7, 1.3, 1.6, 1.2, 0.9, 1.3,
  1.0, 1.4, 0.9, 1.2, 0.8, 1.1, 1.4, 1.0, 1.3, 0.9,
  1.2, 0.8, 1.1, 1.5, 1.1, 1.4, 1.0, 1.3, 1.7, 1.2,
  1.5, 1.0, 1.4, 1.1, 1.6, 1.2, 0.9, 1.3, 1.0, 1.4,
  1.1, 1.5, 1.2, 1.6, 1.3, 1.0, 1.4, 1.1, 1.5, 1.2,
  0.9, 1.3, 1.0, 1.4, 1.1, 0.8, 1.2, 0.9, 1.3, 1.0,
  1.3, 1.0, 1.4, 1.1, 0.8, 1.2, 1.5, 1.1, 0.8, 1.1,
  1.4, 1.0, 1.3, 0.9, 1.2, 1.6, 1.2, 0.9, 1.3, 1.1,
  1.4
];

const single21Start = 1850;
const single21 = [
  0.2, 0.3, 0.15, 0.3, 0.2, 0.4, 0.3, 0.2, 0.35, 0.25,
  0.4, 0.3, 0.2, 0.35, 0.5, 0.3, 0.2, 0.3, 0.45, 0.3,
  0.2, 0.35, 0.5, 0.3, 0.25, 0.4, 0.3, 0.2, 0.1, 0.05,
  0.05, 0.15, 0.3, 0.2, 0.4, 0.3, 0.5, 0.35, 0.25, 0.4,
  0.3, 0.2, 0.4, 0.3, 0.45, 0.35, 0.2, 0.3, 0.45, 0.6,
  0.5, 0.3, 0.45, 0.6, 0.4, 0.3, 0.5, 0.4, 0.6, 0.5,
  0.4, 0.6, 0.5, 0.4, 0.55, 0.4, 0.25, 0.1, 0.05, 0.1,
  0.05, 0.05, 0.15, 0.1, 0.25, 0.3, 0.2, 0.4, 0.3, 0.45,
  0.5, 0.35, 0.45, 0.3, 0.5, 0.3, 0.2, 0.3, 0.2, 0.35,
  0.25, 0.4, 0.3, 0.2, 0.35, 0.25, 0.3, 0.2, 0.15, 0.3,
  0.2, 0.3, 0.25, 0.35, 0.2, 0.3, 0.4, 0.3, 0.2, 0.35,
  0.3, 0.2, 0.35, 0.25, 0.3, 0.4, 0.25, 0.15, 0.3, 0.2,
  0.3, 0.25, 0.35, 0.2, 0.3, 0.4, 0.3, 0.2, 0.3, 0.25,
  0.2, 0.3, 0.25, 0.15, 0.3, 0.2, 0.1, 0.2, 0.15, 0.05,
  0.15, 0.25, 0.2, 0.1, 0.2, 0.3, 0.2, 0.1, 0.05, 0.15,
  0.2, 0.1, 0.25, 0.15, 0.1, 0.05, 0.2, 0.15, 0.1, 0.05,
  0.1
];

const singleSeries = [
  [single01Start, single01], [single02Start, single02], [single03Start, single03],
  [single04Start, single04], [single05Start, single05], [single06Start, single06],
  [single07Start, single07], [single08Start, single08], [single09Start, single09],
  [single10Start, single10], [single11Start, single11], [single12Start, single12],
  [single13Start, single13], [single14Start, single14], [single15Start, single15],
  [single16Start, single16], [single17Start, single17], [single18Start, single18],
  [single19Start, single19], [single20Start, single20], [single21Start, single21]
];

const FONT = '"Liberation Sans", Arial, Helvetica, sans-serif';
const INK = '#1a1a1a';

function toPoints(start, values) {
  return values.map((v, i) => ({ x: start + i, y: v }));
}

function line(label, start, values, color, width, order) {
  return {
    label,
    data: toPoints(start, values),
    borderColor: color,
    borderWidth: width,
    order,
    pointRadius: 0,
    tension: 0,
    borderJoinStyle: 'round',
    borderCapStyle: 'round',
    fill: false
  };
}

const datasets = [
  line('VPAall', vpaAllStart, vpaAll, legendColors[3], 2.7, 0),
  line('VPAold', vpaOldStart, vpaOld, legendColors[2], 2.7, 1),
  line('VPAyoung', vpaYoungStart, vpaYoung, legendColors[1], 2.7, 2)
];
singleSeries.forEach(([start, vals], i) => {
  datasets.push(line('Single series ' + (i + 1), start, vals, '#000000', 2.2, 3));
});

// base-graphics style frame, axes, titles and legend
const frame = {
  id: 'frame',
  afterDraw(chart) {
    const { ctx, chartArea: a, scales: { x, y } } = chart;
    ctx.save();
    ctx.strokeStyle = INK;
    ctx.fillStyle = INK;
    ctx.lineWidth = 1.6;
    ctx.strokeRect(a.left, a.top, a.right - a.left, a.bottom - a.top);

    ctx.font = '23px ' + FONT;
    ctx.beginPath();
    yTicks.forEach(v => {
      const py = Math.round(y.getPixelForValue(v)) + 0.5;
      ctx.moveTo(a.left - 12, py);
      ctx.lineTo(a.left, py);
    });
    xTicks.forEach(v => {
      const px = Math.round(x.getPixelForValue(v)) + 0.5;
      ctx.moveTo(px, a.bottom);
      ctx.lineTo(px, a.bottom + 12);
    });
    ctx.stroke();

    ctx.textAlign = 'center';
    ctx.textBaseline = 'alphabetic';
    yTickLabels.forEach(v => {
      ctx.save();
      ctx.translate(72, y.getPixelForValue(v));
      ctx.rotate(-Math.PI / 2);
      ctx.fillText(String(v), 0, 0);
      ctx.restore();
    });
    xTicks.forEach(v => {
      ctx.fillText(String(v), x.getPixelForValue(v), 382);
    });

    ctx.fillText('Year', (a.left + a.right) / 2, 427);
    ctx.save();
    ctx.translate(28, 185);
    ctx.rotate(-Math.PI / 2);
    ctx.fillText('Index', 0, 0);
    ctx.restore();

    ctx.textAlign = 'left';
    legendLabels.forEach((label, i) => {
      const ly = 52 + i * 38.5;
      ctx.strokeStyle = legendColors[i];
      ctx.lineWidth = 3.6;
      ctx.beginPath();
      ctx.moveTo(118, ly);
      ctx.lineTo(177, ly);
      ctx.stroke();
      ctx.fillStyle = INK;
      ctx.fillText(label, 203, ly + 8.5);
    });
    ctx.restore();
  }
};

new Chart(document.getElementById('indexChart'), {
  type: 'line',
  data: { datasets },
  options: {
    responsive: false,
    animation: false,
    devicePixelRatio: 1,
    layout: { padding: { left: 102, top: 11, right: 15, bottom: 87 } },
    plugins: { legend: { display: false }, tooltip: { enabled: false } },
    scales: {
      x: { type: 'linear', min: 1594.7, max: 2026, display: false },
      y: { type: 'linear', min: -0.28, max: 7.28, display: false }
    }
  },
  plugins: [frame]
});
</script>
</body>
</html>
